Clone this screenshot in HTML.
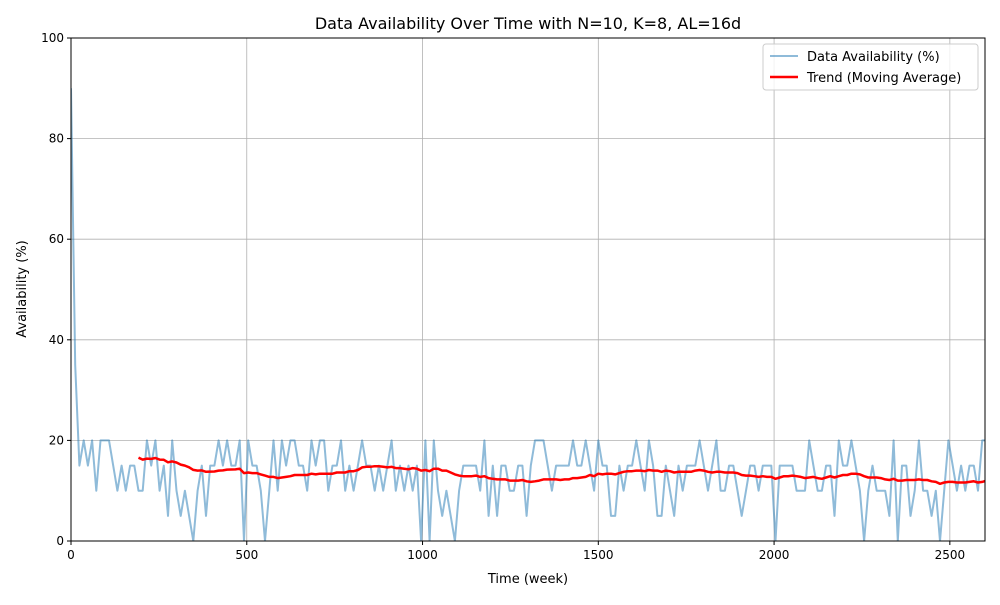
<!DOCTYPE html>
<html><head><meta charset="utf-8">
<style>
body{margin:0;background:#fff;font-family:"Liberation Sans","DejaVu Sans",sans-serif;}
svg text{font-family:"DejaVu Sans","Liberation Sans",sans-serif;}
</style></head>
<body>
<svg id="chart" width="1000" height="600" xmlns="http://www.w3.org/2000/svg">
<rect width="1000" height="600" fill="#fff"/>
<text x="528" y="29" font-size="16" text-anchor="middle">Data Availability Over Time with N=10, K=8, AL=16d</text>
<g id="grid"></g>
<g id="series"></g>
<rect x="71" y="38" width="914" height="503" fill="none" stroke="#000" stroke-width="1"/>
<g id="ticks"></g>
<text x="528" y="583" font-size="13" text-anchor="middle">Time (week)</text>
<text x="26" y="289" font-size="13" text-anchor="middle" transform="rotate(-90 26 289)">Availability (%)</text>
<g>
<rect x="763" y="44" width="215" height="46" rx="3" fill="#fff" fill-opacity="0.8" stroke="#ccc"/>
<line x1="770" y1="56" x2="798" y2="56" stroke="#1f77b4" stroke-opacity="0.5" stroke-width="2"/>
<text x="807" y="61" font-size="13">Data Availability (%)</text>
<line x1="770" y1="77" x2="798" y2="77" stroke="#ff0000" stroke-width="2.5"/>
<text x="807" y="82" font-size="13">Trend (Moving Average)</text>
</g>
</svg>
<script>
const stepWeeks = 12;
const availability = [90,35,15,20,15,20,10,20,20,20,15,10,15,10,15,15,10,10,20,15,20,10,15,5,20,10,5,10,5,0,
10,15,5,15,15,20,15,20,15,15,20,0,20,15,15,10,0,10,20,10,20,15,20,20,15,15,10,20,15,20,
20,10,15,15,20,10,15,10,15,20,15,15,10,15,10,15,20,10,15,10,15,10,15,0,20,0,20,10,5,10,
5,0,10,15,15,15,15,10,20,5,15,5,15,15,10,10,15,15,5,15,20,20,20,15,10,15,15,15,15,20,
15,15,20,15,10,20,15,15,5,5,15,10,15,15,20,15,10,20,15,5,5,15,10,5,15,10,15,15,15,20,
15,10,15,20,10,10,15,15,10,5,10,15,15,10,15,15,15,0,15,15,15,15,10,10,10,20,15,10,10,15,
15,5,20,15,15,20,15,10,0,10,15,10,10,10,5,20,0,15,15,5,10,20,10,10,5,10,0,10,20,15,
10,15,10,15,15,10,20,20];
const maStart = 16;
const maWindow = 40;
const xTicks = [0,500,1000,1500,2000,2500];
const yTicks = [0,20,40,60,80,100];

const X0=71,X1=985,Y0=541,Y1=38,XMAX=2600,YMAX=100;
const sx=w=>X0+(w/XMAX)*(X1-X0);
const sy=v=>Y0-(v/YMAX)*(Y0-Y1);
const NS='http://www.w3.org/2000/svg';
function mk(tag,attrs,parent){const e=document.createElementNS(NS,tag);for(const k in attrs)e.setAttribute(k,attrs[k]);parent.appendChild(e);return e;}
const grid=document.getElementById('grid'),ticks=document.getElementById('ticks'),series=document.getElementById('series');
xTicks.forEach(t=>{
  const g=mk('line',{x1:sx(t),x2:sx(t),y1:Y1,y2:Y0,stroke:'#b0b0b0','stroke-width':0.8},grid);
  
  
  mk('line',{x1:sx(t),x2:sx(t),y1:Y0,y2:Y0+4,stroke:'#000'},ticks);
  const tx=mk('text',{x:sx(t),y:Y0+18,'font-size':12,'text-anchor':'middle'},ticks);
  tx.textContent=t;
  
  
});
yTicks.forEach(t=>{
  const g=mk('line',{x1:X0,x2:X1,y1:sy(t),y2:sy(t),stroke:'#b0b0b0','stroke-width':0.8},grid);
  
  
  mk('line',{x1:X0-4,x2:X0,y1:sy(t),y2:sy(t),stroke:'#000'},ticks);
  const tx=mk('text',{x:X0-7,y:sy(t)+4,'font-size':12,'text-anchor':'end'},ticks);
  tx.textContent=t;
  
  
});
const clip=mk('clipPath',{id:'pc'},document.getElementById('chart'));
mk('rect',{x:X0,y:Y1,width:X1-X0,height:Y0-Y1},clip);
series.setAttribute('clip-path','url(#pc)');
const pts=availability.map((v,i)=>sx(i*stepWeeks).toFixed(1)+','+sy(v).toFixed(1)).join(' ');
const line=mk('polyline',{points:pts,fill:'none',stroke:'#1f77b4','stroke-opacity':0.5,'stroke-width':2,'stroke-linejoin':'round'},series);


const tp=[];
for(let i=maStart;i<availability.length;i++){
  let s=0,n=0;
  for(let j=Math.max(1,i-maWindow+1);j<=i;j++){s+=availability[j];n++;}
  tp.push(sx(i*stepWeeks).toFixed(1)+','+sy(s/n).toFixed(1));
}
const trend=mk('polyline',{points:tp.join(' '),fill:'none',stroke:'#ff0000','stroke-width':2.5,'stroke-linejoin':'round'},series);


</script>
</body></html>
